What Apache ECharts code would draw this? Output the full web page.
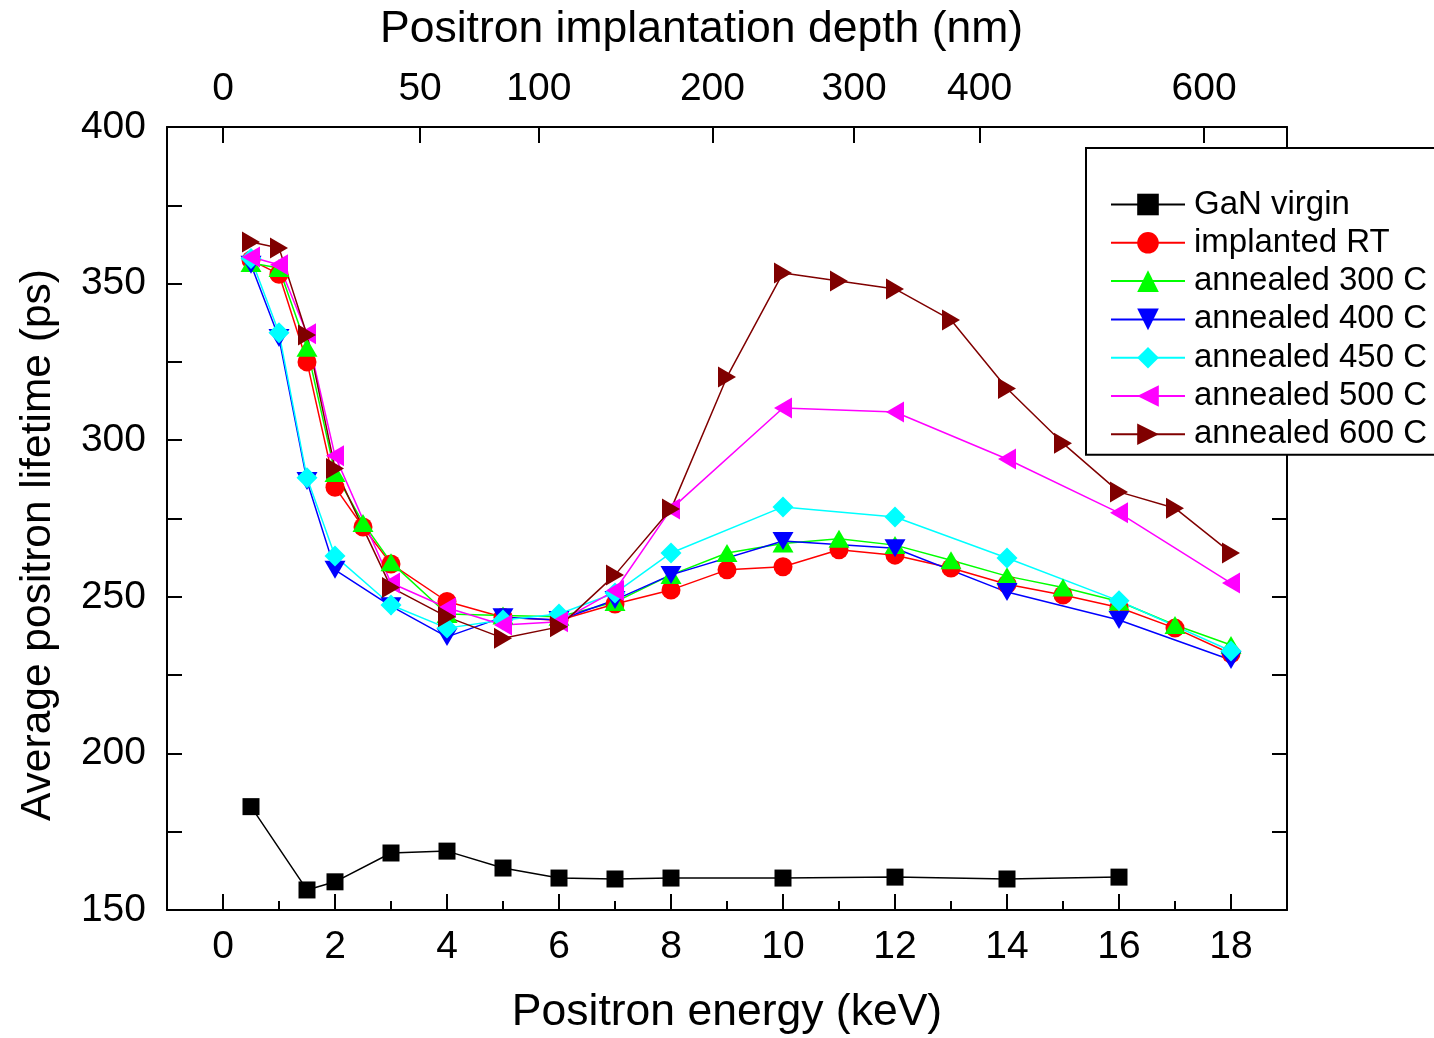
<!DOCTYPE html>
<html>
<head>
<meta charset="utf-8">
<script src="https://cdn.jsdelivr.net/npm/echarts@6/dist/echarts.min.js"></script>
<style>
html,body{margin:0;padding:0;background:#fff;}
#chart{width:1434px;height:1038px;}
</style>
</head>
<body>
<div id="chart"></div>
<script>
// ---- data ----
const energyVirgin = [0.5, 1.5, 2, 3, 4, 5, 6, 7, 8, 10, 12, 14, 16];
const virgin = [183, 156.4, 159, 168.2, 168.8, 163.4, 160.2, 159.9, 160.2, 160.2, 160.5, 159.9, 160.5];

const energyFull = [0.5, 1, 1.5, 2, 2.5, 3, 4, 5, 6, 7, 8, 9, 10, 11, 12, 13, 14, 15, 16, 17, 18];
const implantedRT = [357.5, 353, 325, 285, 272.3, 260.5, 248.5, 243.5, 242.5, 247.7, 252.2, 258.6, 259.6, 265, 263.3, 259.2, 254, 250.6, 246.6, 240, 231.8];
const annealed300 = [356.6, 355, 329.5, 289.5, 273.6, 261, 244.5, 244, 243.6, 248.3, 257, 264, 267, 268.5, 266.5, 261.7, 256.6, 253, 248.5, 241, 234.6];

const energyMid = [0.5, 1, 1.5, 2, 3, 4, 5, 6, 7, 8, 10, 12, 14, 16, 18];
const annealed400 = [356, 332.6, 287, 258.6, 247, 237.2, 243.5, 242.6, 249, 257, 267.8, 265.5, 251.5, 242.6, 229.8];
const annealed450 = [358, 334.3, 288, 263, 247.4, 240, 242.6, 244.5, 251.2, 264, 278.7, 275.5, 262.4, 248.7, 232.7];
const annealed500 = [358.5, 356, 334, 295, 254.4, 246.5, 241, 242, 252, 278, 310.3, 309, 294, 276.8, 254.4];

const energy600 = [0.5, 1, 1.5, 2, 3, 4, 5, 6, 7, 8, 9, 10, 11, 12, 13, 14, 15, 16, 17, 18];
const annealed600 = [363.3, 361.4, 333.6, 291, 253, 243.6, 236.8, 240.4, 257, 278, 320.2, 353.4, 350.8, 348.3, 338.4, 316.5, 299, 283.5, 278.3, 264];

const energyTicks = [0, 2, 4, 6, 8, 10, 12, 14, 16, 18];
const energyMinorTicks = [1, 3, 5, 7, 9, 11, 13, 15, 17];
const depthLabels = ['0', '50', '100', '200', '300', '400', '600'];
const depthEnergy = [0, 3.52, 5.64, 8.74, 11.27, 13.51, 17.52];

const seriesNames = ['GaN virgin', 'implanted RT', 'annealed 300 C', 'annealed 400 C', 'annealed 450 C', 'annealed 500 C', 'annealed 600 C'];

// ---- build ----
function pairs(xs, ys) { return xs.map((x, i) => [x, ys[i]]); }
const FONT = '"Liberation Sans", Arial, sans-serif';
const black = '#000';

const downTri = 'path://M0,0 L20,0 L10,17 Z';
const leftTri = 'path://M17,0 L17,20 L0,10 Z';
const rightTri = 'path://M0,0 L0,20 L17,10 Z';

function mk(name, data, color, symbol, size) {
  return {
    name: name, type: 'line', data: data,
    xAxisIndex: 0, yAxisIndex: 0,
    symbol: symbol, symbolSize: size, showAllSymbol: true,
    lineStyle: { color: color, width: 1.5 },
    itemStyle: { color: color, borderWidth: 0 },
    emphasis: { disabled: true },
    animation: false
  };
}

const series = [
  mk(seriesNames[0], pairs(energyVirgin, virgin), '#000000', 'rect', 17),
  mk(seriesNames[1], pairs(energyFull, implantedRT), '#ff0000', 'circle', 19),
  mk(seriesNames[2], pairs(energyFull, annealed300), '#00ff00', 'triangle', [21, 18]),
  mk(seriesNames[3], pairs(energyMid, annealed400), '#0000ff', downTri, [21, 18]),
  mk(seriesNames[4], pairs(energyMid, annealed450), '#00ffff', 'diamond', 21),
  mk(seriesNames[5], pairs(energyMid, annealed500), '#ff00ff', leftTri, [18, 21]),
  mk(seriesNames[6], pairs(energy600, annealed600), '#800000', rightTri, [18, 21])
];

const axisLine = { show: true, onZero: false, lineStyle: { color: black, width: 2 } };
const TICK_FONT = 39;

const option = {
  backgroundColor: '#fff',
  animation: false,
  title: {
    text: 'Positron implantation depth (nm)',
    left: 375, top: 2,
    textStyle: { fontFamily: FONT, fontSize: 44.5, fontWeight: 'normal', color: black }
  },
  graphic: [{
    type: 'text',
    x: 38, y: 545,
    rotation: Math.PI / 2,
    style: {
      text: 'Average positron lifetime (ps)',
      font: '42.5px "Liberation Sans", Arial, sans-serif',
      fill: black,
      align: 'center', verticalAlign: 'middle'
    }
  }],
  grid: { left: 167, right: 147, top: 127, bottom: 128, containLabel: false, outerBoundsMode: 'none' },
  legend: {
    left: 1086, top: 148,
    orient: 'vertical',
    padding: [40, 40, 4, 24],
    borderColor: black, borderWidth: 2,
    backgroundColor: '#fff',
    itemWidth: 74, itemHeight: 27, itemGap: 5.3,
    textStyle: { fontFamily: FONT, fontSize: 33, color: black, lineHeight: 33, padding: [0, 0, 0, 4] },
    data: seriesNames
  },
  xAxis: [
    {
      type: 'value', position: 'bottom', min: -1, max: 19,
      axisLine: axisLine,
      splitLine: { show: false },
      axisTick: { show: true, inside: true, length: 16, customValues: energyTicks, lineStyle: { color: black, width: 2 } },
      axisLabel: { show: true, customValues: energyTicks, margin: 18, fontFamily: FONT, fontSize: TICK_FONT, color: black },
      name: 'Positron energy (keV)', nameLocation: 'middle', nameGap: 80,
      nameTextStyle: { fontFamily: FONT, fontSize: 44.5, color: black }
    },
    {
      type: 'value', position: 'top', min: -1, max: 19,
      axisLine: axisLine,
      splitLine: { show: false },
      axisTick: { show: true, inside: true, length: 16, customValues: depthEnergy, lineStyle: { color: black, width: 2 } },
      axisLabel: {
        show: true, customValues: depthEnergy, margin: 18, fontFamily: FONT, fontSize: TICK_FONT, color: black,
        formatter: function (v) { const i = depthEnergy.indexOf(v); return i >= 0 ? depthLabels[i] : ''; }
      }
    },
    {
      type: 'value', position: 'bottom', min: -1, max: 19,
      axisLine: { show: false },
      splitLine: { show: false },
      axisTick: { show: true, inside: true, length: 9, customValues: energyMinorTicks, lineStyle: { color: black, width: 2 } },
      axisLabel: { show: false }
    }
  ],
  yAxis: [
    {
      type: 'value', position: 'left', min: 150, max: 400, interval: 50,
      axisLine: axisLine,
      splitLine: { show: false },
      axisTick: { show: true, inside: true, length: 15, lineStyle: { color: black, width: 2 } },
      minorTick: { show: true, splitNumber: 2, length: 15, lineStyle: { color: black, width: 2 } },
      axisLabel: { show: true, margin: 21, fontFamily: FONT, fontSize: TICK_FONT, color: black }
    },
    {
      type: 'value', position: 'right', min: 150, max: 400, interval: 50,
      axisLine: axisLine,
      splitLine: { show: false },
      axisTick: { show: true, inside: true, length: 15, lineStyle: { color: black, width: 2 } },
      minorTick: { show: true, splitNumber: 2, length: 15, lineStyle: { color: black, width: 2 } },
      axisLabel: { show: false }
    }
  ],
  series: series
};

const chart = echarts.init(document.getElementById('chart'), null, { renderer: 'canvas' });
chart.setOption(option);
</script>
</body>
</html>
